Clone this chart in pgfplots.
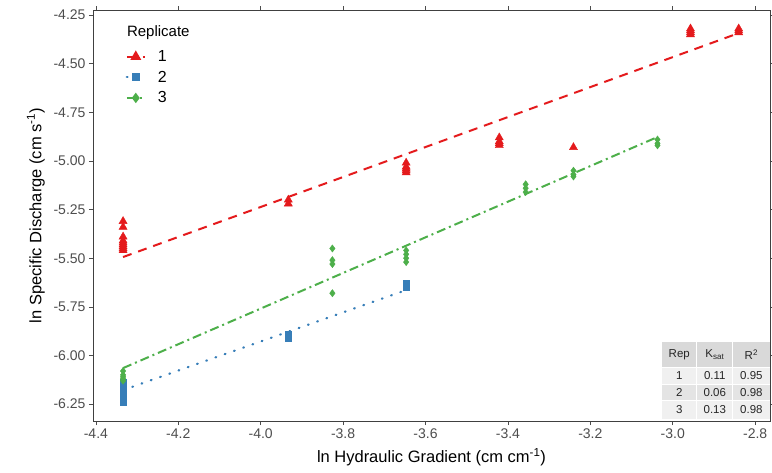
\documentclass[border=0pt]{standalone}
\usepackage{pgfplots}
\pgfplotsset{compat=1.18}
\usepackage{fontspec}
\setmainfont{Liberation Sans}
\definecolor{cred}{HTML}{E41A1C}
\definecolor{cblue}{HTML}{377EB8}
\definecolor{cgreen}{HTML}{4DAF4A}
\definecolor{tickgrey}{HTML}{4D4D4D}
\definecolor{hdr}{HTML}{D9D9D9}
\definecolor{rowa}{HTML}{F0F0F0}
\definecolor{rowb}{HTML}{E4E4E4}
\tikzset{
  redline/.style={cred, line width=2pt, dash pattern=on 9pt off 7pt},
  blueline/.style={cblue, line width=2.2pt, dash pattern=on 0.8pt off 9pt, line cap=round},
  greenline/.style={cgreen, line width=2pt, dash pattern=on 9pt off 4pt on 2pt off 4pt},
}
\begin{document}
\begin{tikzpicture}
\path[use as bounding box] (-93pt,-51pt) rectangle (679pt,421pt);
\begin{axis}[
  at={(0,0)}, anchor=south west,
  scale only axis, width=677pt, height=411pt,
  xmin=-4.407, xmax=-2.764, ymin=-6.337, ymax=-4.224,
  xtick={-4.4,-4.2,-4.0,-3.8,-3.6,-3.4,-3.2,-3.0,-2.8},
  ytick={-6.25,-6.0,-5.75,-5.5,-5.25,-5.0,-4.75,-4.5,-4.25},
  tick align=outside, major tick length=4pt,
  tick style={color=black!70, line width=0.6pt},
  axis line style={color=black!75, line width=0.8pt},
  /pgf/number format/assume math mode=true,
  ticklabel style={font=\fontsize{14}{16}\selectfont, text=tickgrey},
  xticklabel style={/pgf/number format/.cd, fixed, fixed zerofill, precision=1},
  yticklabel style={/pgf/number format/.cd, fixed, fixed zerofill, precision=2},
  xlabel={ln Hydraulic Gradient (cm cm\textsuperscript{-1})},
  ylabel={ln Specific Discharge (cm s\textsuperscript{-1})},
  label style={font=\fontsize{16.5}{19}\selectfont},
  xlabel style={yshift=-3pt},
  ylabel style={yshift=2pt},
  legend style={at={(rel axis cs:0.048,0.907)}, anchor=north west, draw=none, fill=none,
    font=\fontsize{16}{17}\selectfont, row sep=4pt, inner sep=0pt,
    nodes={inner sep=2pt}},
  legend cell align=left,
  legend image code/.code={\draw[mark repeat=2,mark phase=2,#1] plot coordinates {(0pt,0pt) (9pt,0pt) (18pt,0pt)};},
]
\addlegendimage{redline, mark=triangle*, mark size=4.3pt, mark options={solid, fill=cred, draw=cred}}
\addlegendentry{\hspace{10pt}1}
\addlegendimage{blueline, mark=square*, mark size=3pt, mark options={solid, fill=cblue, draw=cblue}}
\addlegendentry{\hspace{10pt}2}
\addlegendimage{greenline, mark=diamond*, mark size=3.6pt, mark options={solid, fill=cgreen, draw=cgreen}}
\addlegendentry{\hspace{10pt}3}

% Replicate 1 points
\addplot[only marks, mark=triangle*, mark size=4.7pt, color=cred, forget plot] coordinates {
(-4.334,-5.31) (-4.334,-5.34) (-4.334,-5.39) (-4.334,-5.41) (-4.334,-5.42) (-4.334,-5.43)
(-4.334,-5.44) (-4.334,-5.45) (-4.334,-5.46)
(-3.933,-5.20) (-3.933,-5.22)
(-3.647,-5.01) (-3.647,-5.03) (-3.647,-5.04) (-3.647,-5.05) (-3.647,-5.06)
(-3.421,-4.88) (-3.421,-4.90) (-3.421,-4.91) (-3.421,-4.92)
(-3.241,-4.93)
(-2.957,-4.32) (-2.957,-4.33) (-2.957,-4.34) (-2.957,-4.35)
(-2.840,-4.32) (-2.840,-4.33) (-2.840,-4.34)
};
% Replicate 2 points
\addplot[only marks, mark=square*, mark size=3.3pt, color=cblue, forget plot] coordinates {
(-4.334,-6.14) (-4.334,-6.16) (-4.334,-6.18) (-4.334,-6.20) (-4.334,-6.22) (-4.334,-6.24)
(-3.933,-5.89) (-3.933,-5.91)
(-3.647,-5.63) (-3.647,-5.65)
};
% Replicate 3 points
\addplot[only marks, mark=diamond*, mark size=3.6pt, color=cgreen, forget plot] coordinates {
(-4.334,-6.08) (-4.334,-6.10) (-4.334,-6.11) (-4.334,-6.12) (-4.334,-6.13)
(-3.826,-5.45) (-3.826,-5.51) (-3.826,-5.53) (-3.826,-5.68)
(-3.647,-5.46) (-3.647,-5.48) (-3.647,-5.50) (-3.647,-5.52)
(-3.357,-5.12) (-3.357,-5.14) (-3.357,-5.16)
(-3.241,-5.05) (-3.241,-5.07) (-3.241,-5.08)
(-3.037,-4.89) (-3.037,-4.91) (-3.037,-4.92)
};
% Fitted lines
\addplot[redline, forget plot] coordinates {(-4.334,-5.494) (-2.840,-4.343)};
\addplot[blueline, forget plot] coordinates {(-4.334,-6.178) (-3.647,-5.664)};
\addplot[greenline, forget plot] coordinates {(-4.334,-6.065) (-3.037,-4.877)};

% Title of legend
\node[anchor=west, font=\fontsize{15}{16}\selectfont, inner sep=0pt] at (rel axis cs:0.050,0.944) {Replicate};

% Inset table
\fill[hdr]  (rel axis cs:0.840,0.131) rectangle (rel axis cs:1,0.192);
\fill[rowa] (rel axis cs:0.840,0.090) rectangle (rel axis cs:1,0.131);
\fill[rowb] (rel axis cs:0.840,0.049) rectangle (rel axis cs:1,0.090);
\fill[rowa] (rel axis cs:0.840,0.005) rectangle (rel axis cs:1,0.049);
\draw[white, line width=1pt] (rel axis cs:0.892,0.005) -- (rel axis cs:0.892,0.192);
\draw[white, line width=1pt] (rel axis cs:0.945,0.005) -- (rel axis cs:0.945,0.192);
\draw[white, line width=1pt] (rel axis cs:0.840,0.131) -- (rel axis cs:1,0.131);
\draw[white, line width=1pt] (rel axis cs:0.840,0.090) -- (rel axis cs:1,0.090);
\draw[white, line width=1pt] (rel axis cs:0.840,0.049) -- (rel axis cs:1,0.049);
\begin{scope}[every node/.style={font=\fontsize{11.5}{13}\selectfont, text=black!85, inner sep=0pt}]
\node at (rel axis cs:0.866,0.1615) {Rep};
\node at (rel axis cs:0.9185,0.1615) {K\textsubscript{sat}};
\node at (rel axis cs:0.9725,0.1615) {R\textsuperscript{2}};
\node at (rel axis cs:0.866,0.1105) {1};
\node at (rel axis cs:0.9185,0.1105) {0.11};
\node at (rel axis cs:0.9725,0.1105) {0.95};
\node at (rel axis cs:0.866,0.0695) {2};
\node at (rel axis cs:0.9185,0.0695) {0.06};
\node at (rel axis cs:0.9725,0.0695) {0.98};
\node at (rel axis cs:0.866,0.027) {3};
\node at (rel axis cs:0.9185,0.027) {0.13};
\node at (rel axis cs:0.9725,0.027) {0.98};
\end{scope}
\end{axis}
\end{tikzpicture}
\end{document}
